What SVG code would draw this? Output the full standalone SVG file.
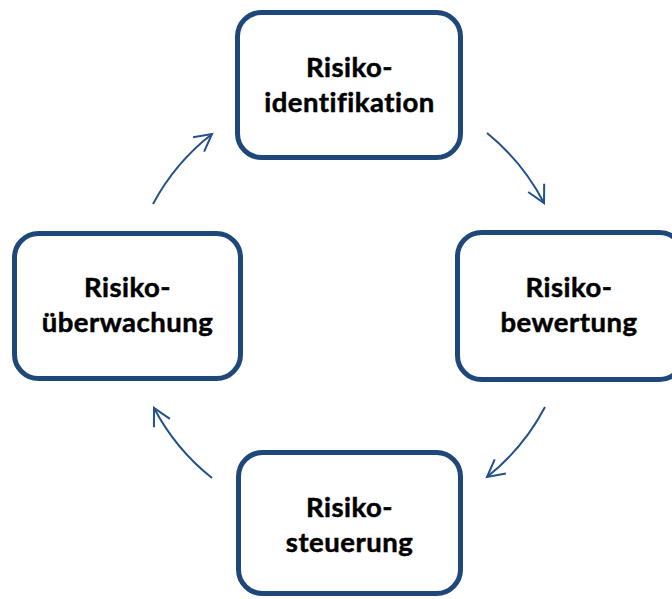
<svg xmlns="http://www.w3.org/2000/svg" width="672" height="599" viewBox="0 0 672 599">
  <style>
    .box { fill: #ffffff; stroke: #1F487A; stroke-width: 5; }
    .lbl { font-family: Lato, "Liberation Sans", sans-serif; font-weight: 700; font-size: 27.5px; letter-spacing: 0.5px; font-variant-ligatures: none; fill: #000000; stroke: #000000; stroke-width: 0.5; text-anchor: middle; }
    .arc { fill: none; stroke: #24508A; stroke-width: 2; marker-end: url(#chev); }
  </style>
  <defs>
    <marker id="chev" markerUnits="userSpaceOnUse" markerWidth="40" markerHeight="40" viewBox="-20 -20 40 40" refX="0" refY="0" orient="auto" overflow="visible">
      <path d="M-17,-9 L0,0 L-17,9" fill="none" stroke="#24508A" stroke-width="2"/>
    </marker>
  </defs>
  <rect width="672" height="599" fill="#ffffff"/>

  <g id="connectors">
    <path class="arc" d="M487,133 A220,220 0 0 1 544,203"/>
    <path class="arc" d="M545,407 A220,220 0 0 1 487,477"/>
    <path class="arc" d="M212,478 A220,220 0 0 1 154,408"/>
    <path class="arc" d="M153,204 A220,220 0 0 1 212,134"/>
  </g>

  <g id="identifikation">
    <rect class="box" x="237.5" y="12.5" width="223" height="145" rx="24"/>
    <text class="lbl" x="349.5" y="77">Risiko-</text>
    <text class="lbl" x="349.5" y="112">identifikation</text>
  </g>

  <g id="bewertung">
    <rect class="box" x="457.5" y="232.5" width="226" height="147" rx="24"/>
    <text class="lbl" x="569" y="297">Risiko-</text>
    <text class="lbl" x="569" y="332">bewertung</text>
  </g>

  <g id="steuerung">
    <rect class="box" x="238.5" y="452.5" width="222" height="141" rx="24"/>
    <text class="lbl" x="349.5" y="517">Risiko-</text>
    <text class="lbl" x="349.5" y="552">steuerung</text>
  </g>

  <g id="ueberwachung">
    <rect class="box" x="14.5" y="233.5" width="226" height="145" rx="24"/>
    <text class="lbl" x="127.5" y="297">Risiko-</text>
    <text class="lbl" x="127.5" y="332">überwachung</text>
  </g>
</svg>
